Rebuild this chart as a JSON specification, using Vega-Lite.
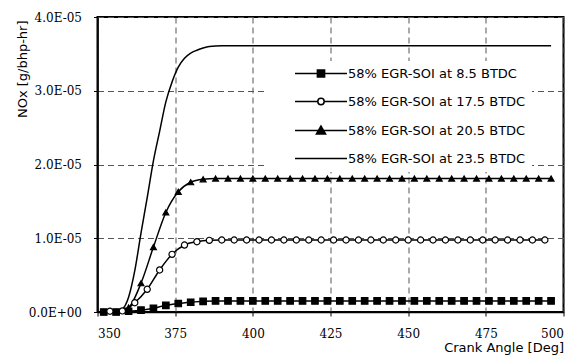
{
  "$schema": "https://vega.github.io/schema/vega-lite/v6.json",
  "width": 466,
  "height": 295,
  "autosize": {"type": "none"},
  "padding": {"left": 97.5, "top": 17, "right": 17.5, "bottom": 50},
  "background": "white",
  "data": {
    "values": [
      {"s": "58% EGR-SOI at 8.5 BTDC", "x": 352, "y": 0},
      {"s": "58% EGR-SOI at 8.5 BTDC", "x": 356, "y": 0},
      {"s": "58% EGR-SOI at 8.5 BTDC", "x": 360, "y": 1e-7},
      {"s": "58% EGR-SOI at 8.5 BTDC", "x": 364, "y": 2.5e-7},
      {"s": "58% EGR-SOI at 8.5 BTDC", "x": 368, "y": 5e-7},
      {"s": "58% EGR-SOI at 8.5 BTDC", "x": 372, "y": 9e-7},
      {"s": "58% EGR-SOI at 8.5 BTDC", "x": 376, "y": 1.15e-6},
      {"s": "58% EGR-SOI at 8.5 BTDC", "x": 380, "y": 1.32e-6},
      {"s": "58% EGR-SOI at 8.5 BTDC", "x": 384, "y": 1.45e-6},
      {"s": "58% EGR-SOI at 8.5 BTDC", "x": 388, "y": 1.5e-6},
      {"s": "58% EGR-SOI at 8.5 BTDC", "x": 392, "y": 1.5e-6},
      {"s": "58% EGR-SOI at 8.5 BTDC", "x": 396, "y": 1.5e-6},
      {"s": "58% EGR-SOI at 8.5 BTDC", "x": 400, "y": 1.5e-6},
      {"s": "58% EGR-SOI at 8.5 BTDC", "x": 404, "y": 1.5e-6},
      {"s": "58% EGR-SOI at 8.5 BTDC", "x": 408, "y": 1.5e-6},
      {"s": "58% EGR-SOI at 8.5 BTDC", "x": 412, "y": 1.5e-6},
      {"s": "58% EGR-SOI at 8.5 BTDC", "x": 416, "y": 1.5e-6},
      {"s": "58% EGR-SOI at 8.5 BTDC", "x": 420, "y": 1.5e-6},
      {"s": "58% EGR-SOI at 8.5 BTDC", "x": 424, "y": 1.5e-6},
      {"s": "58% EGR-SOI at 8.5 BTDC", "x": 428, "y": 1.5e-6},
      {"s": "58% EGR-SOI at 8.5 BTDC", "x": 432, "y": 1.5e-6},
      {"s": "58% EGR-SOI at 8.5 BTDC", "x": 436, "y": 1.5e-6},
      {"s": "58% EGR-SOI at 8.5 BTDC", "x": 440, "y": 1.5e-6},
      {"s": "58% EGR-SOI at 8.5 BTDC", "x": 444, "y": 1.5e-6},
      {"s": "58% EGR-SOI at 8.5 BTDC", "x": 448, "y": 1.5e-6},
      {"s": "58% EGR-SOI at 8.5 BTDC", "x": 452, "y": 1.5e-6},
      {"s": "58% EGR-SOI at 8.5 BTDC", "x": 456, "y": 1.5e-6},
      {"s": "58% EGR-SOI at 8.5 BTDC", "x": 460, "y": 1.5e-6},
      {"s": "58% EGR-SOI at 8.5 BTDC", "x": 464, "y": 1.5e-6},
      {"s": "58% EGR-SOI at 8.5 BTDC", "x": 468, "y": 1.5e-6},
      {"s": "58% EGR-SOI at 8.5 BTDC", "x": 472, "y": 1.5e-6},
      {"s": "58% EGR-SOI at 8.5 BTDC", "x": 476, "y": 1.5e-6},
      {"s": "58% EGR-SOI at 8.5 BTDC", "x": 480, "y": 1.5e-6},
      {"s": "58% EGR-SOI at 8.5 BTDC", "x": 484, "y": 1.5e-6},
      {"s": "58% EGR-SOI at 8.5 BTDC", "x": 488, "y": 1.5e-6},
      {"s": "58% EGR-SOI at 8.5 BTDC", "x": 492, "y": 1.5e-6},
      {"s": "58% EGR-SOI at 8.5 BTDC", "x": 496, "y": 1.5e-6},

      {"s": "58% EGR-SOI at 17.5 BTDC", "x": 354, "y": 1e-7},
      {"s": "58% EGR-SOI at 17.5 BTDC", "x": 358, "y": 1.5e-7},
      {"s": "58% EGR-SOI at 17.5 BTDC", "x": 362, "y": 1.26e-6},
      {"s": "58% EGR-SOI at 17.5 BTDC", "x": 366, "y": 3.08e-6},
      {"s": "58% EGR-SOI at 17.5 BTDC", "x": 370, "y": 5.7e-6},
      {"s": "58% EGR-SOI at 17.5 BTDC", "x": 374, "y": 7.82e-6},
      {"s": "58% EGR-SOI at 17.5 BTDC", "x": 378, "y": 9.08e-6},
      {"s": "58% EGR-SOI at 17.5 BTDC", "x": 382, "y": 9.53e-6},
      {"s": "58% EGR-SOI at 17.5 BTDC", "x": 386, "y": 9.72e-6},
      {"s": "58% EGR-SOI at 17.5 BTDC", "x": 390, "y": 9.76e-6},
      {"s": "58% EGR-SOI at 17.5 BTDC", "x": 394, "y": 9.76e-6},
      {"s": "58% EGR-SOI at 17.5 BTDC", "x": 398, "y": 9.76e-6},
      {"s": "58% EGR-SOI at 17.5 BTDC", "x": 402, "y": 9.76e-6},
      {"s": "58% EGR-SOI at 17.5 BTDC", "x": 406, "y": 9.76e-6},
      {"s": "58% EGR-SOI at 17.5 BTDC", "x": 410, "y": 9.76e-6},
      {"s": "58% EGR-SOI at 17.5 BTDC", "x": 414, "y": 9.76e-6},
      {"s": "58% EGR-SOI at 17.5 BTDC", "x": 418, "y": 9.76e-6},
      {"s": "58% EGR-SOI at 17.5 BTDC", "x": 422, "y": 9.76e-6},
      {"s": "58% EGR-SOI at 17.5 BTDC", "x": 426, "y": 9.76e-6},
      {"s": "58% EGR-SOI at 17.5 BTDC", "x": 430, "y": 9.76e-6},
      {"s": "58% EGR-SOI at 17.5 BTDC", "x": 434, "y": 9.76e-6},
      {"s": "58% EGR-SOI at 17.5 BTDC", "x": 438, "y": 9.76e-6},
      {"s": "58% EGR-SOI at 17.5 BTDC", "x": 442, "y": 9.76e-6},
      {"s": "58% EGR-SOI at 17.5 BTDC", "x": 446, "y": 9.76e-6},
      {"s": "58% EGR-SOI at 17.5 BTDC", "x": 450, "y": 9.76e-6},
      {"s": "58% EGR-SOI at 17.5 BTDC", "x": 454, "y": 9.76e-6},
      {"s": "58% EGR-SOI at 17.5 BTDC", "x": 458, "y": 9.76e-6},
      {"s": "58% EGR-SOI at 17.5 BTDC", "x": 462, "y": 9.76e-6},
      {"s": "58% EGR-SOI at 17.5 BTDC", "x": 466, "y": 9.76e-6},
      {"s": "58% EGR-SOI at 17.5 BTDC", "x": 470, "y": 9.76e-6},
      {"s": "58% EGR-SOI at 17.5 BTDC", "x": 474, "y": 9.76e-6},
      {"s": "58% EGR-SOI at 17.5 BTDC", "x": 478, "y": 9.76e-6},
      {"s": "58% EGR-SOI at 17.5 BTDC", "x": 482, "y": 9.76e-6},
      {"s": "58% EGR-SOI at 17.5 BTDC", "x": 486, "y": 9.76e-6},
      {"s": "58% EGR-SOI at 17.5 BTDC", "x": 490, "y": 9.76e-6},
      {"s": "58% EGR-SOI at 17.5 BTDC", "x": 494, "y": 9.76e-6},

      {"s": "58% EGR-SOI at 20.5 BTDC", "x": 352, "y": 0},
      {"s": "58% EGR-SOI at 20.5 BTDC", "x": 356, "y": 0},
      {"s": "58% EGR-SOI at 20.5 BTDC", "x": 360, "y": 6e-7},
      {"s": "58% EGR-SOI at 20.5 BTDC", "x": 364, "y": 3.9e-6},
      {"s": "58% EGR-SOI at 20.5 BTDC", "x": 368, "y": 8.8e-6},
      {"s": "58% EGR-SOI at 20.5 BTDC", "x": 372, "y": 1.35e-5},
      {"s": "58% EGR-SOI at 20.5 BTDC", "x": 376, "y": 1.63e-5},
      {"s": "58% EGR-SOI at 20.5 BTDC", "x": 380, "y": 1.76e-5},
      {"s": "58% EGR-SOI at 20.5 BTDC", "x": 384, "y": 1.8e-5},
      {"s": "58% EGR-SOI at 20.5 BTDC", "x": 388, "y": 1.81e-5},
      {"s": "58% EGR-SOI at 20.5 BTDC", "x": 392, "y": 1.81e-5},
      {"s": "58% EGR-SOI at 20.5 BTDC", "x": 396, "y": 1.81e-5},
      {"s": "58% EGR-SOI at 20.5 BTDC", "x": 400, "y": 1.81e-5},
      {"s": "58% EGR-SOI at 20.5 BTDC", "x": 404, "y": 1.81e-5},
      {"s": "58% EGR-SOI at 20.5 BTDC", "x": 408, "y": 1.81e-5},
      {"s": "58% EGR-SOI at 20.5 BTDC", "x": 412, "y": 1.81e-5},
      {"s": "58% EGR-SOI at 20.5 BTDC", "x": 416, "y": 1.81e-5},
      {"s": "58% EGR-SOI at 20.5 BTDC", "x": 420, "y": 1.81e-5},
      {"s": "58% EGR-SOI at 20.5 BTDC", "x": 424, "y": 1.81e-5},
      {"s": "58% EGR-SOI at 20.5 BTDC", "x": 428, "y": 1.81e-5},
      {"s": "58% EGR-SOI at 20.5 BTDC", "x": 432, "y": 1.81e-5},
      {"s": "58% EGR-SOI at 20.5 BTDC", "x": 436, "y": 1.81e-5},
      {"s": "58% EGR-SOI at 20.5 BTDC", "x": 440, "y": 1.81e-5},
      {"s": "58% EGR-SOI at 20.5 BTDC", "x": 444, "y": 1.81e-5},
      {"s": "58% EGR-SOI at 20.5 BTDC", "x": 448, "y": 1.81e-5},
      {"s": "58% EGR-SOI at 20.5 BTDC", "x": 452, "y": 1.81e-5},
      {"s": "58% EGR-SOI at 20.5 BTDC", "x": 456, "y": 1.81e-5},
      {"s": "58% EGR-SOI at 20.5 BTDC", "x": 460, "y": 1.81e-5},
      {"s": "58% EGR-SOI at 20.5 BTDC", "x": 464, "y": 1.81e-5},
      {"s": "58% EGR-SOI at 20.5 BTDC", "x": 468, "y": 1.81e-5},
      {"s": "58% EGR-SOI at 20.5 BTDC", "x": 472, "y": 1.81e-5},
      {"s": "58% EGR-SOI at 20.5 BTDC", "x": 476, "y": 1.81e-5},
      {"s": "58% EGR-SOI at 20.5 BTDC", "x": 480, "y": 1.81e-5},
      {"s": "58% EGR-SOI at 20.5 BTDC", "x": 484, "y": 1.81e-5},
      {"s": "58% EGR-SOI at 20.5 BTDC", "x": 488, "y": 1.81e-5},
      {"s": "58% EGR-SOI at 20.5 BTDC", "x": 492, "y": 1.81e-5},
      {"s": "58% EGR-SOI at 20.5 BTDC", "x": 496, "y": 1.81e-5},

      {"s": "58% EGR-SOI at 23.5 BTDC", "x": 350, "y": 0},
      {"s": "58% EGR-SOI at 23.5 BTDC", "x": 354, "y": 0},
      {"s": "58% EGR-SOI at 23.5 BTDC", "x": 356, "y": 1e-7},
      {"s": "58% EGR-SOI at 23.5 BTDC", "x": 358, "y": 4e-7},
      {"s": "58% EGR-SOI at 23.5 BTDC", "x": 360, "y": 2.0e-6},
      {"s": "58% EGR-SOI at 23.5 BTDC", "x": 362, "y": 5.6e-6},
      {"s": "58% EGR-SOI at 23.5 BTDC", "x": 364, "y": 1.07e-5},
      {"s": "58% EGR-SOI at 23.5 BTDC", "x": 366, "y": 1.55e-5},
      {"s": "58% EGR-SOI at 23.5 BTDC", "x": 368, "y": 2.05e-5},
      {"s": "58% EGR-SOI at 23.5 BTDC", "x": 370, "y": 2.45e-5},
      {"s": "58% EGR-SOI at 23.5 BTDC", "x": 372, "y": 2.85e-5},
      {"s": "58% EGR-SOI at 23.5 BTDC", "x": 374, "y": 3.12e-5},
      {"s": "58% EGR-SOI at 23.5 BTDC", "x": 376, "y": 3.32e-5},
      {"s": "58% EGR-SOI at 23.5 BTDC", "x": 378, "y": 3.44e-5},
      {"s": "58% EGR-SOI at 23.5 BTDC", "x": 380, "y": 3.51e-5},
      {"s": "58% EGR-SOI at 23.5 BTDC", "x": 382, "y": 3.55e-5},
      {"s": "58% EGR-SOI at 23.5 BTDC", "x": 384, "y": 3.58e-5},
      {"s": "58% EGR-SOI at 23.5 BTDC", "x": 386, "y": 3.6e-5},
      {"s": "58% EGR-SOI at 23.5 BTDC", "x": 390, "y": 3.61e-5},
      {"s": "58% EGR-SOI at 23.5 BTDC", "x": 400, "y": 3.61e-5},
      {"s": "58% EGR-SOI at 23.5 BTDC", "x": 420, "y": 3.61e-5},
      {"s": "58% EGR-SOI at 23.5 BTDC", "x": 440, "y": 3.61e-5},
      {"s": "58% EGR-SOI at 23.5 BTDC", "x": 460, "y": 3.61e-5},
      {"s": "58% EGR-SOI at 23.5 BTDC", "x": 480, "y": 3.61e-5},
      {"s": "58% EGR-SOI at 23.5 BTDC", "x": 496, "y": 3.61e-5}
    ]
  },
  "encoding": {
    "x": {
      "field": "x", "type": "quantitative",
      "scale": {"domain": [350, 500], "nice": false, "zero": false},
      "axis": {
        "title": "Crank Angle [Deg]",
        "values": [350, 375, 400, 425, 450, 475, 500],
        "titleAnchor": "end",
        "titlePadding": 2,
        "labelPadding": 12
      }
    },
    "y": {
      "field": "y", "type": "quantitative",
      "scale": {"domain": [0, 0.00004], "nice": false},
      "axis": {
        "title": "NOx [g/bhp-hr]",
        "values": [0, 0.00001, 0.00002, 0.00003, 0.00004],
        "labelExpr": "datum.value == 0 ? '0.0E+00' : replace(upper(format(datum.value, '.1e')), 'E-', 'E-0')",
        "labelPadding": 12,
        "titleX": -75,
        "titleY": 3,
        "titleAlign": "right",
        "titleBaseline": "middle",
        "titleAngle": -90
      }
    }
  },
  "layer": [
    {
      "mark": {"type": "line", "color": "black", "strokeWidth": 1.5, "interpolate": "monotone"},
      "encoding": {"detail": {"field": "s"}}
    },
    {
      "transform": [{"filter": "datum.s != '58% EGR-SOI at 23.5 BTDC'"}],
      "mark": {"type": "point", "filled": true, "stroke": "black", "strokeWidth": 1.2, "opacity": 1},
      "encoding": {
        "shape": {
          "field": "s", "type": "nominal",
          "scale": {"domain": ["58% EGR-SOI at 8.5 BTDC", "58% EGR-SOI at 17.5 BTDC", "58% EGR-SOI at 20.5 BTDC"], "range": ["square", "circle", "triangle-up"]},
          "legend": null
        },
        "fill": {
          "field": "s", "type": "nominal",
          "scale": {"domain": ["58% EGR-SOI at 8.5 BTDC", "58% EGR-SOI at 17.5 BTDC", "58% EGR-SOI at 20.5 BTDC"], "range": ["black", "white", "black"]},
          "legend": null
        },
        "size": {
          "field": "s", "type": "nominal",
          "scale": {"domain": ["58% EGR-SOI at 8.5 BTDC", "58% EGR-SOI at 17.5 BTDC", "58% EGR-SOI at 20.5 BTDC"], "range": [42, 34, 70]},
          "legend": null
        }
      }
    },
    {
      "mark": {"type": "point", "filled": true, "opacity": 0, "size": 64, "strokeWidth": 1.5},
      "encoding": {
        "shape": {
          "field": "s", "type": "nominal",
          "scale": {
            "domain": ["58% EGR-SOI at 8.5 BTDC", "58% EGR-SOI at 17.5 BTDC", "58% EGR-SOI at 20.5 BTDC", "58% EGR-SOI at 23.5 BTDC"],
            "range": [
              "M-6.5,0L6.5,0M-0.9,-0.9L0.9,-0.9L0.9,0.9L-0.9,0.9Z",
              "M-6.5,0L-0.8,0M0.8,0L6.5,0M-0.8,0A0.8,0.8,0,1,0,0.8,0A0.8,0.8,0,1,0,-0.8,0Z",
              "M-6.5,0L6.5,0M0,-1.1L1.15,0.9L-1.15,0.9Z",
              "M-6.5,0L6.5,0"
            ]
          },
          "legend": {
            "title": null,
            "orient": "none",
            "legendX": 170.5,
            "legendY": 44,
            "fillColor": "white",
            "strokeColor": null,
            "padding": 6,
            "rowPadding": 14,
            "symbolSize": 64,
            "symbolOpacity": 1,
            "symbolStrokeColor": "black",
            "symbolStrokeWidth": 1.5,
            "symbolOffset": 40.5,
            "labelOffset": 20.5,
            "labelFont": "DejaVu Sans",
            "labelFontSize": 13,
            "labelColor": "black",
            "labelLimit": 400,
            "labelExpr": "datum.label + '\u2003\u2003\u00a0'"
          }
        },
        "fill": {
          "field": "s", "type": "nominal",
          "scale": {
            "domain": ["58% EGR-SOI at 8.5 BTDC", "58% EGR-SOI at 17.5 BTDC", "58% EGR-SOI at 20.5 BTDC", "58% EGR-SOI at 23.5 BTDC"],
            "range": ["black", "white", "black", "black"]
          }
        },
        "stroke": {
          "field": "s", "type": "nominal",
          "scale": {
            "domain": ["58% EGR-SOI at 8.5 BTDC", "58% EGR-SOI at 17.5 BTDC", "58% EGR-SOI at 20.5 BTDC", "58% EGR-SOI at 23.5 BTDC"],
            "range": ["black", "black", "black", "black"]
          }
        }
      }
    }
  ],
  "resolve": {"scale": {"shape": "independent", "fill": "independent", "size": "independent", "stroke": "independent"}},
  "config": {
    "view": {"stroke": "black", "strokeWidth": 2},
    "axis": {
      "domainColor": "black",
      "domainWidth": 1.5,
      "tickColor": "black",
      "tickSize": 4,
      "labelFont": "DejaVu Serif",
      "labelFontSize": 12,
      "labelColor": "black",
      "titleFont": "DejaVu Sans",
      "titleFontSize": 13,
      "titleFontWeight": "normal",
      "titleColor": "black",
      "gridColor": "#555555",
      "gridDash": [6, 4],
      "gridWidth": 1,
      "gridOpacity": 1
    }
  }
}
